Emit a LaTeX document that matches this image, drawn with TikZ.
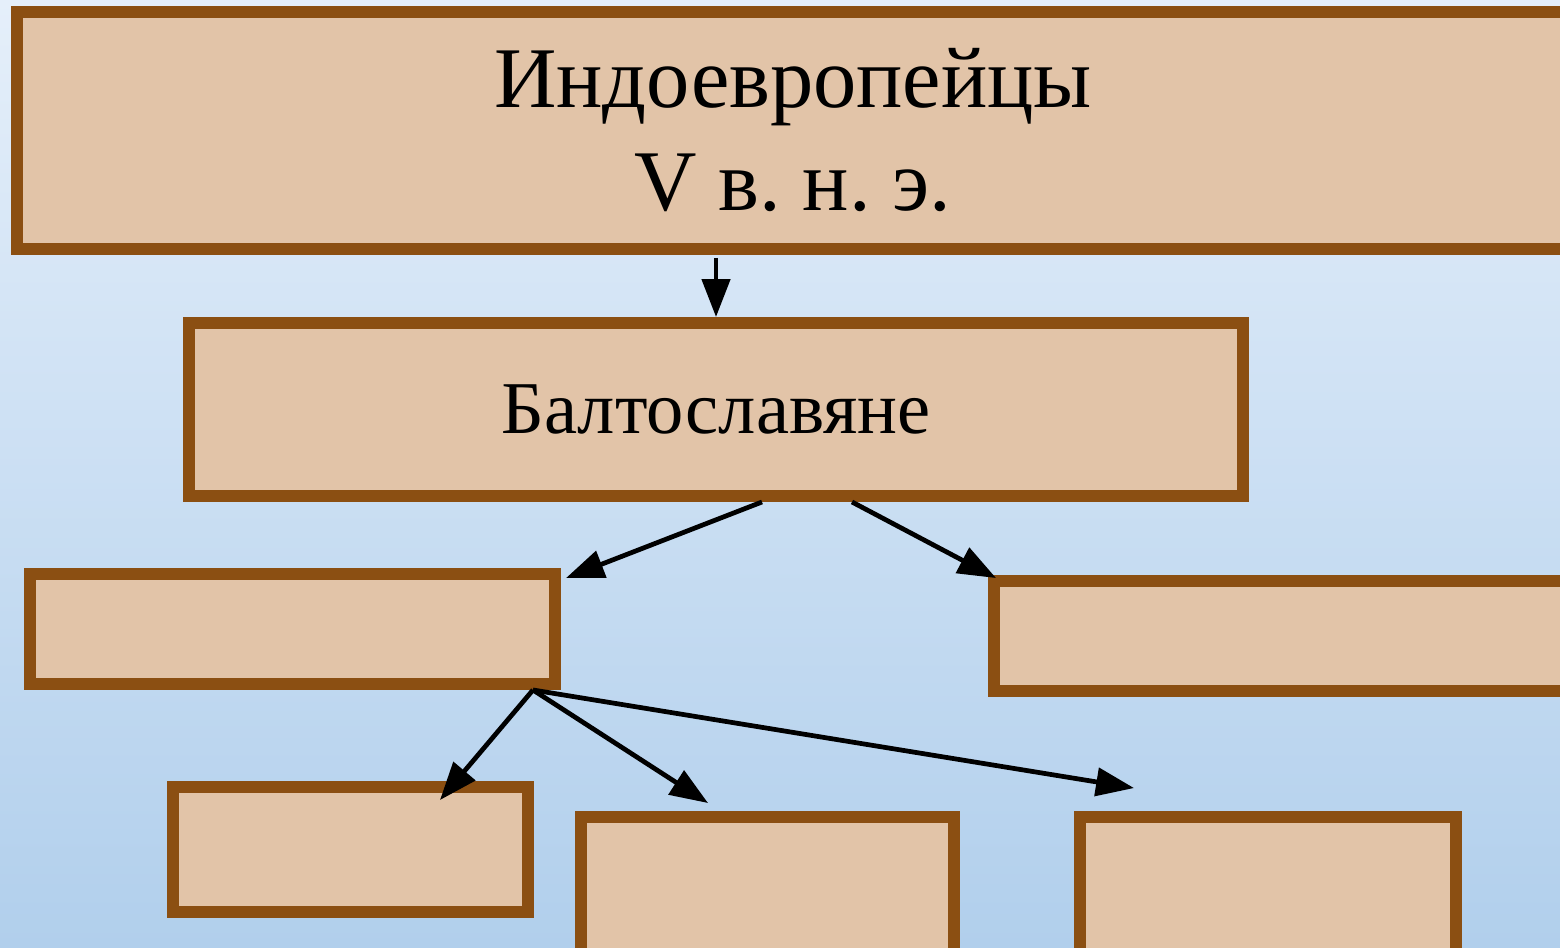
\documentclass[tikz,border=0pt]{standalone}
\usepackage{fontspec}
\setmainfont{Liberation Serif}
\usetikzlibrary{arrows.meta}
\definecolor{boxfill}{RGB}{226,196,168}
\definecolor{boxline}{RGB}{139,79,18}
\definecolor{bgtop}{RGB}{229,239,250}
\definecolor{bgbottom}{RGB}{177,207,236}
\frenchspacing
\begin{document}
\begin{tikzpicture}[
  tribe/.style={draw=boxline, fill=boxfill, line width=3.4pt, inner sep=0pt},
  arr/.style={line width=1.35pt, -{Triangle[length=0.38cm,width=0.28cm]}}
]

\useasboundingbox (0,0) rectangle (15.6,-9.47);
\clip (0,0) rectangle (15.6,-9.47);
\shade[top color=bgtop, bottom color=bgbottom] (0,0) rectangle (15.6,-9.47);

\node[tribe, minimum width=15.52cm, minimum height=2.37cm, align=center,
  font=\fontsize{24.6}{29.3}\selectfont] (indo) at (7.93,-1.305) {Индоевропейцы\\V в. н. э.};
\node[tribe, minimum width=10.54cm, minimum height=1.73cm,
  font=\fontsize{21.2}{25}\selectfont] (balto) at (7.16,-4.095) {Балтославяне};

\node[tribe, minimum width=5.25cm, minimum height=1.10cm] (left) at (2.925,-6.29) {};
\node[tribe, minimum width=6.06cm, minimum height=1.10cm] (right) at (12.97,-6.36) {};

\node[tribe, minimum width=3.55cm, minimum height=1.25cm] (low1) at (3.505,-8.495) {};
\node[tribe, minimum width=3.73cm, minimum height=1.63cm] (low2) at (7.675,-8.985) {};
\node[tribe, minimum width=3.76cm, minimum height=1.63cm] (low3) at (12.68,-8.985) {};

\draw[arr] ([yshift=-0.03cm]indo.south -| balto.north) -- (balto.north);

\draw[arr] ([xshift=0.46cm]balto.south) -- ([shift={(0.05,-0.1)}]left.north east);
\draw[arr] ([xshift=1.36cm]balto.south) -- ([shift={(0.08,-0.03)}]right.north west);

\coordinate (fork) at ([xshift=-0.28cm]left.south east);
\draw[arr] (fork) -- ([shift={(-0.94,-0.19)}]low1.north east);
\draw[arr] (fork) -- ([shift={(1.33,0.08)}]low2.north west);
\draw[arr] (fork) -- ([shift={(0.60,0.23)}]low3.north west);

\end{tikzpicture}
\end{document}
